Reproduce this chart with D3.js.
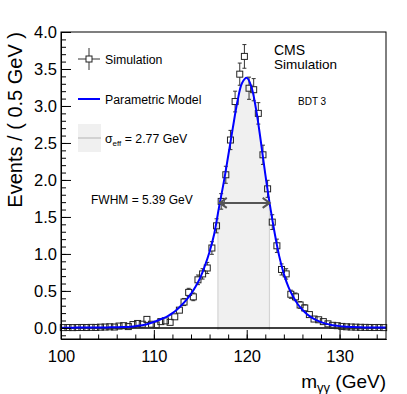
<!DOCTYPE html>
<html>
<head>
<meta charset="utf-8">
<script src="https://cdn.jsdelivr.net/npm/d3@7"></script>
<style>
  body { margin: 0; background: #fff; }
  svg { font-family: "Liberation Sans", Arial, sans-serif; }
  .axis path, .axis line { stroke: #000; }
  .axis text { font-size: 16.5px; fill: #000; }
</style>
</head>
<body>
<svg id="chart" width="407" height="394"></svg>
<script>
// simulated events per 0.5 GeV bin (bin centres 100.25 ... 134.75)
const simValues = [
  0.004, 0.005, 0.004, 0.005, 0.006, 0.005, 0.007, 0.006, 0.010, 0.012,
  0.015, 0.012, 0.025, 0.030, 0.018, 0.045, 0.060, 0.050, 0.115, 0.050,
  0.040, 0.085, 0.095, 0.075, 0.150, 0.240, 0.350, 0.480, 0.420, 0.650,
  0.730, 0.810, 1.080, 1.380, 1.710, 2.070, 2.540, 3.060, 3.430, 3.670,
  3.240, 3.220, 2.900, 2.340, 1.880, 1.430, 1.110, 0.790, 0.730, 0.455,
  0.420, 0.310, 0.270, 0.180, 0.120, 0.110, 0.085, 0.055, 0.035, 0.030,
  0.020, 0.015, 0.012, 0.010, 0.008, 0.007, 0.006, 0.005, 0.006, 0.004
];
const simErrors = [
  0.004, 0.004, 0.004, 0.004, 0.005, 0.004, 0.005, 0.005, 0.006, 0.007,
  0.008, 0.007, 0.010, 0.011, 0.009, 0.015, 0.018, 0.016, 0.025, 0.016,
  0.015, 0.022, 0.024, 0.020, 0.030, 0.040, 0.048, 0.055, 0.052, 0.065,
  0.070, 0.075, 0.085, 0.095, 0.105, 0.115, 0.130, 0.140, 0.150, 0.160,
  0.150, 0.150, 0.145, 0.130, 0.115, 0.100, 0.090, 0.075, 0.070, 0.055,
  0.052, 0.045, 0.042, 0.035, 0.028, 0.026, 0.022, 0.018, 0.014, 0.013,
  0.010, 0.009, 0.008, 0.007, 0.006, 0.006, 0.005, 0.005, 0.005, 0.004
];
const binCentres = d3.range(simValues.length).map(i => 100.25 + 0.5 * i);

// parametric model read every 0.5 GeV from 100 to 135
const modelValues = [
  0.003, 0.003, 0.003, 0.004, 0.004, 0.004, 0.005, 0.005, 0.006, 0.006,
  0.007, 0.008, 0.009, 0.011, 0.013, 0.017, 0.023, 0.032, 0.044, 0.060,
  0.080, 0.104, 0.130, 0.160, 0.200, 0.250, 0.310, 0.380, 0.460, 0.560,
  0.680, 0.840, 1.030, 1.270, 1.620, 1.950, 2.320, 2.700, 3.060, 3.310,
  3.380, 3.260, 2.960, 2.540, 2.080, 1.660, 1.290, 0.970, 0.730, 0.550,
  0.420, 0.320, 0.245, 0.185, 0.140, 0.105, 0.078, 0.058, 0.043, 0.032,
  0.024, 0.018, 0.014, 0.011, 0.009, 0.007, 0.006, 0.005, 0.005, 0.004,
  0.004
];
const modelMass = d3.range(modelValues.length).map(i => 100 + 0.5 * i);

const sigmaEffRange = [116.9, 122.45];
const fwhmRange = [117.1, 122.47];
const fwhmLevel = 1.69;

const xTicksMajor = [100, 110, 120, 130];
const yTicksMajor = [0, 0.5, 1, 1.5, 2, 2.5, 3, 3.5, 4];

// frame
const frameL = 61, frameR = 386, frameT = 32, frameB = 339;

const x = d3.scaleLinear().domain([100, 135]).range([frameL, frameR]);
const y = d3.scaleLinear().domain([-0.15, 4.0]).range([frameB, frameT]);

const svg = d3.select("#chart");

// sigma_eff band under the model
const area = d3.area()
  .x((d, i) => x(modelMass[i]))
  .y0(y(0) + 2)
  .y1(d => y(d))
  .curve(d3.curveCatmullRom);

svg.append("clipPath").attr("id", "under")
  .append("path").attr("d", area(modelValues));

svg.append("rect")
  .attr("clip-path", "url(#under)")
  .attr("x", x(sigmaEffRange[0]))
  .attr("y", frameT)
  .attr("width", x(sigmaEffRange[1]) - x(sigmaEffRange[0]))
  .attr("height", frameB - frameT)
  .attr("fill", "#f0f0f0")
  .attr("stroke", "#d4d4d4")
  .attr("stroke-width", 1.2);

// zero line
svg.append("line")
  .attr("x1", frameL).attr("x2", frameR)
  .attr("y1", y(0)).attr("y2", y(0))
  .attr("stroke", "#000").attr("stroke-width", 1.5);

// simulated points: open squares, error bars drawn outside the marker
const pts = svg.append("g").attr("stroke", "#333").attr("fill", "none");
binCentres.forEach((m, i) => {
  const cx = x(m), cy = y(simValues[i]);
  const lo = y(simValues[i] - simErrors[i]), hi = y(simValues[i] + simErrors[i]);
  if (hi < cy - 3) {
    pts.append("line").attr("x1", cx).attr("x2", cx).attr("y1", cy - 3).attr("y2", hi);
    pts.append("line").attr("x1", cx - 2).attr("x2", cx + 2).attr("y1", hi).attr("y2", hi);
  }
  if (lo > cy + 3) {
    pts.append("line").attr("x1", cx).attr("x2", cx).attr("y1", cy + 3).attr("y2", lo);
    pts.append("line").attr("x1", cx - 2).attr("x2", cx + 2).attr("y1", lo).attr("y2", lo);
  }
  pts.append("rect")
    .attr("x", cx - 3).attr("y", cy - 3)
    .attr("width", 6).attr("height", 6)
    .attr("stroke", "#222").attr("fill", "none");
});

// model curve
const line = d3.line()
  .x((d, i) => x(modelMass[i]))
  .y(d => y(d))
  .curve(d3.curveCatmullRom);

svg.append("path")
  .datum(modelValues)
  .attr("d", line)
  .attr("fill", "none")
  .attr("stroke", "#0000ff")
  .attr("stroke-width", 2);

// FWHM arrow
const ay = y(fwhmLevel), ax1 = x(fwhmRange[0]), ax2 = x(fwhmRange[1]);
const arrow = svg.append("g").attr("stroke", "#555").attr("stroke-width", 2).attr("fill", "none");
arrow.append("line").attr("x1", ax1).attr("x2", ax2).attr("y1", ay).attr("y2", ay);
arrow.append("path").attr("d", `M${ax1 + 7},${ay - 5}L${ax1},${ay}L${ax1 + 7},${ay + 5}`);
arrow.append("path").attr("d", `M${ax2 - 7},${ay - 5}L${ax2},${ay}L${ax2 - 7},${ay + 5}`);

svg.append("text")
  .attr("x", 91).attr("y", 204)
  .attr("font-size", 12)
  .text("FWHM = 5.39 GeV");

// axes
svg.append("g").attr("class", "axis")
  .attr("transform", "translate(0," + frameB + ")")
  .call(d3.axisBottom(x).tickValues(xTicksMajor).tickSizeInner(-9).tickSizeOuter(0).tickPadding(11).tickFormat(d3.format("d")));
svg.append("g").attr("class", "axis")
  .attr("transform", "translate(0," + frameB + ")")
  .call(d3.axisBottom(x).tickValues(d3.range(100, 136, 2)).tickSizeInner(-4.5).tickSizeOuter(0).tickFormat(""));

svg.append("g").attr("class", "axis")
  .attr("transform", "translate(" + frameL + ",0)")
  .call(d3.axisLeft(y).tickValues(yTicksMajor).tickSizeInner(-10).tickSizeOuter(0).tickPadding(4).tickFormat(d3.format(".1f")));
svg.append("g").attr("class", "axis")
  .attr("transform", "translate(" + frameL + ",0)")
  .call(d3.axisLeft(y).tickValues(d3.range(-0.1, 4.0, 0.1)).tickSizeInner(-5).tickSizeOuter(0).tickFormat(""));

// frame
svg.append("rect")
  .attr("x", frameL).attr("y", frameT)
  .attr("width", frameR - frameL).attr("height", frameB - frameT)
  .attr("fill", "none").attr("stroke", "#000");

// axis titles
svg.append("text")
  .attr("transform", "translate(22," + frameT + ") rotate(-90)")
  .attr("text-anchor", "end")
  .attr("font-size", 20)
  .text("Events / ( 0.5 GeV )");

const xt = svg.append("text")
  .attr("x", frameR).attr("y", 388)
  .attr("text-anchor", "end")
  .attr("font-size", 19);
xt.append("tspan").text("m");
xt.append("tspan").attr("font-size", 13).attr("dy", 4).text("γγ");
xt.append("tspan").attr("dy", -4).text(" (GeV)");

// legend
const lg = svg.append("g").attr("font-size", 12.3);
lg.append("line").attr("x1", 78).attr("x2", 86).attr("y1", 59).attr("y2", 59).attr("stroke", "#333");
lg.append("line").attr("x1", 92).attr("x2", 100).attr("y1", 59).attr("y2", 59).attr("stroke", "#333");
lg.append("line").attr("x1", 89).attr("x2", 89).attr("y1", 48).attr("y2", 56).attr("stroke", "#333");
lg.append("line").attr("x1", 89).attr("x2", 89).attr("y1", 62).attr("y2", 70).attr("stroke", "#333");
lg.append("rect").attr("x", 86).attr("y", 56).attr("width", 6).attr("height", 6).attr("fill", "none").attr("stroke", "#222");
lg.append("text").attr("x", 105).attr("y", 63.5).text("Simulation");

lg.append("line").attr("x1", 78).attr("x2", 100).attr("y1", 99).attr("y2", 99).attr("stroke", "#0000ff").attr("stroke-width", 2);
lg.append("text").attr("x", 105).attr("y", 103.5).text("Parametric Model");

lg.append("rect").attr("x", 78).attr("y", 124).attr("width", 23).attr("height", 28).attr("fill", "#f0f0f0");
lg.append("line").attr("x1", 78).attr("x2", 101).attr("y1", 138).attr("y2", 138).attr("stroke", "#c8c8c8").attr("stroke-width", 1.5);
const se = lg.append("text").attr("x", 105).attr("y", 142.5);
se.append("tspan").text("σ");
se.append("tspan").attr("font-size", 8).attr("dy", 3).text("eff");
se.append("tspan").attr("dy", -3).text(" = 2.77 GeV");

// labels
svg.append("text").attr("x", 274).attr("y", 55).attr("font-size", 14).text("CMS");
svg.append("text").attr("x", 274).attr("y", 69).attr("font-size", 13.5).text("Simulation");
svg.append("text").attr("x", 298).attr("y", 105).attr("font-size", 10).text("BDT 3");
</script>
</body>
</html>
